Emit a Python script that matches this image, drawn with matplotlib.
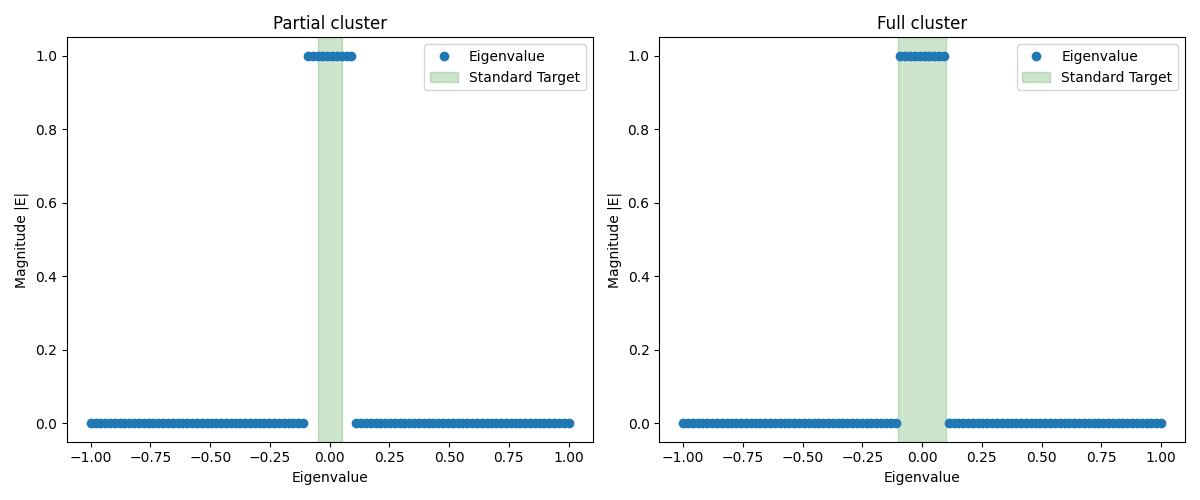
import numpy as np
import matplotlib.pyplot as plt

# eigenvalues on an even grid, magnitudes
eigvals = np.linspace(-1, 1, 100)
magnitude = [0] * 45 + [1] * 10 + [0] * 45

titles = ["Partial cluster", "Full cluster"]
targets = [(-0.05, 0.05), (-0.1, 0.1)]

fig, axes = plt.subplots(1, 2, figsize=(12, 5))

for ax, title, (lo, hi) in zip(axes, titles, targets):
    ax.plot(eigvals, magnitude, 'o', label='Eigenvalue')
    ax.axvspan(lo, hi, color='green', alpha=0.2, label='Standard Target')
    ax.set_title(title)
    ax.set_xlabel('Eigenvalue')
    ax.set_ylabel('Magnitude |E|')
    ax.legend(loc='upper right')

plt.tight_layout()
plt.savefig('out.png', dpi=100)
